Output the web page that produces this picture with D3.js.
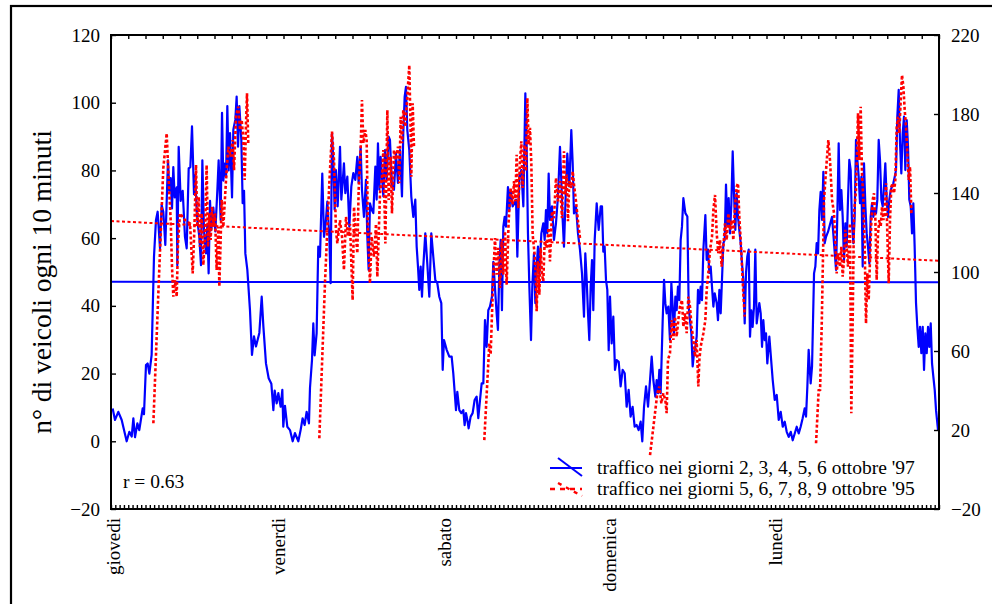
<!DOCTYPE html>
<html><head><meta charset="utf-8">
<script src="https://cdn.jsdelivr.net/npm/d3@7"></script>
<style>
body{margin:0;background:#fff}
svg{display:block}
text{font-family:"Liberation Serif","Times New Roman",serif;fill:#000}
</style>
</head><body><svg id="c" width="992" height="604"></svg>
<script>
// ---- data ----
const dayLabels = ["giovedi","venerdi","sabato","domenica","lunedi"];
const dayStarts = [0,24,48,72,96];            // hours from Thursday 00:00
const leftTicks = [-20,0,20,40,60,80,100,120];
const rightTicks = [-20,20,60,100,140,180,220];
const legendLabels = ["traffico nei giorni 2, 3, 4, 5, 6 ottobre '97","traffico nei giorni 5, 6, 7, 8, 9 ottobre '95"];
const rText = "r = 0.63";
const yTitle = "n° di veicoli ogni 10 minuti";

// [hour, vehicles per 10 min] — 1997, left axis
const traffic97 = [[0.24,9.7],[0.58,6.3],[1.06,8.7],[1.55,6.3],[2.27,0],[2.66,2.8],[3.0,1.4],[3.24,6.8],[3.48,1.2],[3.82,5.3],[4.1,3.3],[4.59,9.7],[4.78,8],[5.07,22.5],[5.31,23],[5.56,20],[5.89,25.5],[6.23,54.5],[6.52,65.4],[6.76,67.8],[7.1,57],[7.34,69.8],[7.58,67.8],[7.87,58],[8.26,83],[8.45,74],[8.65,77.7],[8.84,68.8],[9.03,81],[9.23,72],[9.52,75],[9.61,52],[9.81,87],[10.1,71],[10.39,74],[10.72,60.4],[10.97,57],[11.26,80.6],[11.5,81],[11.74,93],[12.03,73],[12.17,78.6],[12.51,65.4],[12.8,60.4],[13.04,52],[13.24,83],[13.48,62],[13.77,55.5],[13.96,64],[14.15,49.6],[14.35,71],[14.54,62.4],[14.83,69],[15.12,62],[15.41,74],[15.6,83],[15.89,65.4],[16.09,97],[16.28,77],[16.47,82],[16.67,78],[16.86,99],[17.05,80],[17.25,91],[17.54,72],[17.73,92],[18.02,95],[18.21,101.8],[18.41,87],[18.6,99],[18.89,89],[19.08,70.3],[19.28,74],[19.47,55.5],[19.76,50.6],[20.14,38.8],[20.43,25.5],[20.72,31],[21.01,28],[21.5,32],[21.84,42.7],[22.08,34],[22.46,23],[22.85,18.6],[23.24,17],[23.53,9.2],[23.72,15],[24.01,11.2],[24.25,14.2],
[24.59,10.2],[24.83,15.2],[24.97,4.3],[25.21,10.5],[25.55,4.3],[25.94,3.3],[26.33,0],[26.66,2.4],[27.15,0],[27.48,3.3],[27.77,6.8],[28.06,4.8],[28.35,8.7],[28.69,5.3],[28.84,15.8],[29.13,24],[29.32,34.8],[29.51,25.4],[29.8,31.9],[30.04,57.5],[30.29,54.5],[30.62,79.1],[30.87,60.4],[31.11,64.3],[31.35,70.8],[31.64,60.4],[31.83,46.7],[32.03,91],[32.22,83.1],[32.41,68.4],[32.6,80.1],[32.85,69.4],[33.19,87],[33.38,71.4],[33.57,76.3],[33.76,82.1],[33.96,73.3],[34.25,78.2],[34.54,63.4],[34.83,75.3],[35.12,79.2],[35.41,77.2],[35.7,84],[35.89,76.3],[36.18,87],[36.37,74.3],[36.66,66.3],[36.95,77.2],[37.15,60.4],[37.34,50.6],[37.53,70.3],[37.77,68.4],[38.02,67.4],[38.31,81.1],[38.5,71.4],[38.69,88],[38.89,74.3],[39.08,84],[39.27,78.2],[39.47,72.3],[39.71,86],[39.95,77.2],[40.24,90],[40.43,89],[40.72,75.3],[41.01,74.3],[41.3,85],[41.59,76.3],[41.88,86],[42.17,72.3],[42.36,91],[42.56,101.8],[42.75,104.7],[42.94,92],[43.23,86],[43.52,72.3],[43.81,66.3],[44.1,71.4],[44.3,57.5],[44.49,51.6],[44.68,44.7],[44.88,51.6],[45.07,42.7],[45.26,51.6],[45.55,61.4],[45.84,52.5],[46.13,42.7],[46.42,61.4],[46.71,54.5],[47.0,47.6],[47.29,46.7],[47.58,42.7],[47.87,40.8],[48.07,21.1],[48.26,29.9],[48.65,27],[49.03,25],
[49.37,25],[49.61,20],[50.0,9.2],[50.19,14.6],[50.48,9.2],[50.77,8.3],[51.06,9.2],[51.25,4.8],[51.45,8.3],[51.64,6.3],[51.83,3.8],[52.12,7.3],[52.41,8.3],[52.7,12.2],[52.99,13.2],[53.23,6.8],[53.48,12.2],[53.72,17.1],[53.96,17.1],[54.2,35.8],[54.44,27.9],[54.68,38.7],[54.93,39.8],[55.21,42.7],[55.41,53],[55.7,43.7],[55.89,37.8],[56.08,32.9],[56.28,51.6],[56.47,59.5],[56.66,38.7],[56.86,63.4],[57.05,66.3],[57.24,63.4],[57.53,75.1],[57.73,68.3],[57.92,74.2],[58.21,69.4],[58.5,70.4],[58.7,71.4],[58.89,54.5],[59.18,78.1],[59.47,80.1],[59.76,69.4],[60.05,102.8],[60.24,87],[60.43,61.4],[60.63,45.7],[60.87,29.9],[61.06,45.7],[61.3,55.5],[61.5,40.8],[61.69,51.6],[61.88,57.5],[62.08,49.6],[62.37,61.4],[62.65,64.4],[62.85,59.5],[63.04,68.3],[63.23,61.4],[63.43,79.1],[63.62,65.4],[63.91,69.4],[64.2,59.5],[64.49,64.4],[64.78,72.3],[65.07,87],[65.26,77.2],[65.46,65.4],[65.65,57.5],[65.94,75.3],[66.13,85],[66.42,75.3],[66.71,91.9],[66.91,82.1],[67.1,67.3],[67.39,69.4],[67.68,61.4],[67.97,56.5],[68.26,49.6],[68.55,36.8],[68.74,55.5],[68.94,47.6],[69.13,37.8],[69.32,29.9],[69.52,45.7],[69.71,53.5],[69.9,38.7],[70.1,59.5],[70.39,70.3],[70.68,62.4],[70.97,69.4],[71.16,69.4],[71.35,56],[71.54,57.5],[71.74,47.6],[71.93,44.7],[72.13,26.9],[72.32,42.7],[72.56,28.9],[72.8,36.8],[73.04,21.1],[73.29,24],[73.58,23.5],[73.86,16.2],[74.15,21.1],[74.45,20.1],[74.73,10.2],[75.02,15.2],[75.31,7.3],[75.6,10.2],[75.89,4.3],[76.18,4.8],[76.47,3.3],[76.76,5.8],[77.0,0],[77.25,10.2],[77.54,16.2],[77.83,10.2],[78.12,18.1],[78.36,25],[78.6,18.1],[78.89,13.2],[79.08,18.1],[79.28,14.2],[79.47,21.1],[79.66,14.2],[79.95,35.4],[80.15,47.7],[80.34,40.8],[80.53,37.8],[80.77,39.8],[81.01,29.9],[81.21,46.7],[81.4,39.8],[81.59,31.9],[81.79,42.7],[81.98,38.7],[82.17,45.7],[82.37,41.7],[82.56,59.5],[82.75,63.4],[82.95,71.8],[83.24,67.4],[83.53,66.4],[83.72,39.8],[83.91,35.8],[84.11,31.9],[84.3,22.1],[84.49,26],[84.69,27.9],[84.88,30.9],[85.07,44.7],[85.27,40.8],[85.46,45.7],[85.65,41.7],[85.85,56.6],[86.14,66.8],[86.33,53.6],[86.52,56.6],[86.72,49.7],[86.91,51.6],[87.1,45.7],[87.3,39.8],[87.49,43.7],[87.78,40.8],[87.97,35.8],[88.17,44.7],[88.36,37.8],[88.55,47.7],[88.75,58.5],[88.94,59.5],[89.13,75.8],[89.33,63.8],[89.52,71.8],[89.71,61.4],[89.9,69.8],[90.1,85.6],[90.29,73.2],[90.48,62.4],[90.68,73.2],[90.87,66.3],[91.06,62.4],[91.26,58.5],[91.45,52.5],[91.64,47.7],[91.84,34.8],[92.03,49.7],[92.22,54.6],[92.42,56.6],[92.61,30.9],[92.8,38.7],[92.99,33.8],[93.19,39.8],[93.38,56.6],[93.58,34.8],[93.77,37.8],[93.96,40.8],[94.16,37.8],[94.35,27.9],[94.54,35.8],[94.74,29.9],[94.93,31.9],[95.12,23],[95.41,30.9],[95.9,18.1],[96.19,12.2],[96.48,13.7],[96.77,6.3],[97.06,8.7],[97.35,4.3],[97.64,5.8],[97.93,2.8],[98.22,1.3],[98.51,2.8],[98.8,0.3],[99.09,2.3],[99.38,4.3],[99.67,2.3],[99.95,4.3],[100.24,6.8],[100.53,9.7],[100.73,7.3],[100.92,16.1],[101.11,27],[101.4,17.1],[101.6,22.1],[101.89,49.6],[102.08,51.6],[102.27,58.5],[102.47,55.5],[102.66,68.3],[102.85,73.7],[103.05,65.4],[103.24,79.6],[103.43,58.5],[103.63,60.4],[103.92,61.9],[104.5,66.3],[105.08,50.6],[105.27,67.3],[105.46,88],[105.65,68.3],[105.85,74.2],[106.04,66.3],[106.23,53.5],[106.43,64.4],[106.62,57.5],[106.81,71.3],[107.0,83.1],[107.2,80.1],[107.39,64.4],[107.59,58.5],[107.78,66.3],[107.97,89],[108.17,83.1],[108.36,78.1],[108.55,70.3],[108.75,78.1],[108.94,51.6],[109.13,82.1],[109.33,69.4],[109.52,61.4],[109.71,57.5],[109.91,52.5],[110.1,66.3],[110.29,70.3],[110.48,66.3],[110.68,68.3],[110.87,67.3],[111.06,71.3],[111.26,89],[111.45,83.1],[111.65,71.3],[111.84,69.4],[112.03,75.2],[112.22,82.1],[112.42,71.3],[112.61,66.3],[112.8,71.3],[113.0,74.2],[113.19,75.2],[113.38,76.2],[113.58,78.1],[113.77,80.1],[113.96,95.9],[114.16,103.8],[114.35,88],[114.54,79.1],[114.74,91],[114.93,95.9],[115.12,80.1],[115.32,94.9],[115.51,87],[115.7,71.3],[115.9,69.4],[116.09,61.4],[116.28,70.3],[116.47,57.5],[116.67,40.8],[116.86,33.8],[117.06,27.9],[117.25,33.8],[117.44,26],[117.64,33.8],[117.83,21.1],[118.02,31.9],[118.22,26],[118.41,33.8],[118.6,27.9],[118.8,34.8],[118.99,23],[119.18,19.1],[119.38,15.2],[119.57,9.2],[119.86,3.3]];

// [hour, vehicles per 10 min] — 1995, right axis (daytime only)
const traffic95 = [[6.14,23.4],[6.86,89.2],[7.58,152.5],[8.07,170.2],[8.36,146.6],[8.65,126.3],[8.84,102.7],[9.03,87.5],[9.28,95.9],[9.52,87.5],[9.71,114.5],[10.0,129.7],[10.72,126.3],[11.45,124.6],[11.84,99.3],[12.08,121.3],[12.32,154.2],[12.51,122.9],[12.71,138.1],[12.9,112.8],[13.14,129.7],[13.38,103.5],[13.62,117.9],[13.86,154.2],[14.06,112.8],[14.25,129.7],[14.44,116.2],[14.64,133.1],[14.83,122.9],[15.07,129.7],[15.31,101],[15.56,122.9],[15.7,92.6],[15.89,116.2],[16.04,136.5],[16.28,122.9],[16.67,146.6],[17.0,163.4],[17.34,158.4],[17.63,166.8],[17.83,151.6],[18.12,178.6],[18.45,183.7],[18.7,171.9],[18.94,177],[19.18,166.8],[19.37,146.6],[19.57,175.3],[19.71,190.5],[19.9,164.3],
[30.19,15.8],[31.01,94.3],[31.64,145],[32.03,171.1],[32.32,156.7],[32.6,121.3],[32.8,114.5],[33.19,126.3],[33.48,117.9],[33.76,101],[34.06,128],[34.35,117.9],[34.64,124.3],[35.02,85.8],[35.22,133],[35.51,117.9],[35.7,109.5],[35.89,141.5],[36.18,161.8],[36.37,187.1],[36.57,165.2],[36.86,171.9],[37.05,166.8],[37.24,121.3],[37.53,94.3],[37.77,117.9],[38.11,107.8],[38.41,124.3],[38.6,97.6],[38.99,139.9],[39.27,148.2],[39.47,161.8],[39.76,114.5],[40.05,182],[40.24,136.5],[40.53,158.4],[40.72,129.7],[41.01,161.8],[41.3,156.7],[41.59,163.5],[41.78,144.9],[41.98,178.6],[42.17,165.2],[42.36,182],[42.65,173.6],[42.94,188.8],[43.23,204.8],[43.43,170.2],[43.52,148.2],[43.72,185.4],[43.91,163.5],
[54.1,14.9],[54.83,63.9],[55.02,58.2],[55.41,98.7],[55.65,117.2],[55.89,98.7],[56.13,112.2],[56.38,91.9],[56.62,115.5],[56.86,98.7],[57.1,120.6],[57.34,93.6],[57.63,125.7],[57.92,142.6],[58.21,134.1],[58.41,146],[58.6,135.8],[58.79,159.4],[59.03,132.4],[59.27,156],[59.47,166.2],[59.66,142.6],[59.95,164.5],[60.14,151],[60.34,188.1],[60.53,164.5],[60.72,173],[60.92,154.4],[61.11,118.9],[61.4,108.7],[61.59,95.3],[61.69,80.1],[61.88,105.4],[62.08,88.5],[62.27,112.2],[62.46,98.7],[62.65,95.3],[62.85,115.5],[63.14,112.2],[63.43,122.3],[63.62,105.4],[63.91,130.7],[64.2,127.3],[64.49,147.6],[64.78,135.8],[65.07,146],[65.36,127.3],[65.65,161.1],[65.84,139.2],[66.04,149.3],[66.23,125.7],[66.42,146],[66.71,142.6],[66.91,151],[67.1,144.3],[67.39,135.8],[67.68,125.7],[67.97,117.2],
[78.12,7.3],[78.84,28.5],[79.18,38.6],[79.47,42],[79.76,33.5],[80.05,38.6],[80.34,35.2],[80.53,28.5],[80.72,55.5],[81.01,58.9],[81.26,75.7],[81.5,65.6],[81.74,77.4],[81.98,67.3],[82.22,75.7],[82.46,82.5],[82.75,85.8],[82.95,72.3],[83.19,79.1],[83.43,69],[83.67,87.5],[83.91,82.5],[84.15,72.3],[84.4,65.6],[84.64,57.2],[84.88,65.6],[85.12,42],[85.27,55.5],[85.46,62.2],[85.85,69],[86.14,75.7],[86.33,90.9],[86.57,99.3],[86.81,111.1],[87.1,117.9],[87.3,131.4],[87.54,139],[87.78,119.6],[88.02,109.5],[88.26,116.2],[88.5,102.7],[88.75,112.8],[88.99,124.6],[89.23,116.2],[89.47,129.7],[89.71,121.3],[90.0,126.3],[90.19,116.2],[90.43,133],[90.68,143.2],[90.87,144.9],[91.06,128],[91.26,116.2],[91.45,102.7],[91.64,89.2],[91.84,77.4],
[102.18,13.3],[102.56,40.1],[102.76,40.3],[103.0,72.3],[103.34,136.5],[103.63,151.6],[103.96,166.8],[104.2,156.7],[104.5,136.5],[104.79,129.7],[104.98,114.5],[105.17,99.3],[105.41,109.5],[105.65,102.7],[105.85,112.8],[106.04,97.6],[106.23,106.1],[106.43,121.3],[106.62,112.8],[106.81,102.7],[107.1,124.6],[107.29,28.5],[107.49,75.7],[107.68,129.7],[107.97,141.5],[108.26,180.4],[108.46,156.7],[108.65,183.7],[108.84,149.9],[109.04,136.5],[109.23,112.8],[109.42,74],[109.62,99.3],[109.81,85.8],[110.0,106.1],[110.2,126.3],[110.39,136.5],[110.58,139.9],[110.78,126.3],[110.97,96],[111.16,119.6],[111.36,126.3],[111.55,122.9],[111.74,133],[111.94,126.3],[112.13,129.7],[112.32,144.9],[112.51,119.6],[112.71,94.3],[112.9,126.3],[113.09,143.2],[113.29,144.9],[113.48,139.9],[113.67,146.6],[113.87,173.6],[114.06,178.6],[114.25,170.2],[114.45,187.1],[114.64,199.7],[114.84,193.8],[115.03,182],[115.22,173.6],[115.41,160.1],[115.61,146.6],[115.8,153.3],[116.0,129.7]];

const mean97 = [[0,47.1],[119.9,47.0]];     // left axis
const trend95 = [[0,125.8],[119.9,105.7]];  // right axis

// ---- layout ----
const svg = d3.select("#c");
const L = 111, R = 939, T = 35, B = 509;
const x = d3.scaleLinear().domain([0,120]).range([L,R]);
const yL = d3.scaleLinear().domain([-20,120]).range([B,T]);
const yR = d3.scaleLinear().domain([-20,220]).range([B,T]);
const BLUE = "#0000ff", RED = "#ff0000";

// outer frame
svg.append("rect").attr("x",11).attr("y",6).attr("width",1000).attr("height",700)
  .attr("fill","none").attr("stroke","#000").attr("stroke-width",2.2);

// series
const lineL = d3.line().x(d=>x(d[0])).y(d=>yL(d[1]));
const lineR = d3.line().x(d=>x(d[0])).y(d=>yR(d[1]));

svg.append("path").datum(traffic97).attr("d",lineL)
  .attr("fill","none").attr("stroke",BLUE).attr("stroke-width",2.2).attr("stroke-linejoin","round");
svg.append("path").datum(mean97).attr("d",lineL)
  .attr("fill","none").attr("stroke",BLUE).attr("stroke-width",2);

// split 1995 series into daily segments
const segs = [];
traffic95.forEach((d,i)=>{
  if(i===0 || d[0]-traffic95[i-1][0] > 3) segs.push([]);
  segs[segs.length-1].push(d);
});
segs.forEach(s=>{
  svg.append("path").datum(s).attr("d",lineR)
    .attr("fill","none").attr("stroke",RED).attr("stroke-width",2.6)
    .attr("stroke-dasharray","3,2.2");
});
svg.append("path").datum(trend95).attr("d",lineR)
  .attr("fill","none").attr("stroke",RED).attr("stroke-width",2).attr("stroke-dasharray","3,2.5");

// axes
const fs = "19px";
const gl = svg.append("g").attr("transform",`translate(${L},0)`)
  .call(d3.axisLeft(yL).tickValues(leftTicks).tickSize(-5).tickSizeOuter(0).tickPadding(11).tickFormat(d3.format("d")));
const gr = svg.append("g").attr("transform",`translate(${R},0)`)
  .call(d3.axisRight(yR).tickValues(rightTicks).tickSize(-5).tickSizeOuter(0).tickPadding(12).tickFormat(d3.format("d")));
const gt = svg.append("g").attr("transform",`translate(0,${T})`)
  .call(d3.axisTop(x).tickValues(d3.range(0,120.001,2.5)).tickSize(-4).tickSizeOuter(0).tickFormat(""));
const gb = svg.append("g").attr("transform",`translate(0,${B})`)
  .call(d3.axisBottom(x).tickValues(d3.range(0,120.001,0.625)).tickSize(-4).tickSizeOuter(0).tickFormat(""));
const gd = svg.append("g").attr("transform",`translate(0,${B})`)
  .call(d3.axisBottom(x).tickValues(dayStarts).tickSize(0).tickFormat((d,i)=>dayLabels[i]));
gd.selectAll("text").attr("x",0).attr("y",0).attr("dy",null)
  .attr("text-anchor","end").attr("transform","translate(8,9) rotate(-90)");

[gl,gr,gt,gb,gd].forEach(g=>{
  g.select(".domain").remove();
  g.selectAll(".tick line").attr("stroke","#000").attr("stroke-width",1.4);
  g.selectAll("text").attr("font-size",fs).attr("fill","#000");
});

// plot frame
svg.append("rect").attr("x",L).attr("y",T).attr("width",R-L).attr("height",B-T)
  .attr("fill","none").attr("stroke","#000").attr("stroke-width",2);

// y title
svg.append("text").attr("transform",`translate(51,${(T+B)/2+10}) rotate(-90)`)
  .attr("text-anchor","middle").attr("font-size","27.5px").text(yTitle);

// r value
svg.append("text").attr("x",123).attr("y",488).attr("font-size","19.5px").text(rText);

// legend
const lg = svg.append("g");
lg.append("line").attr("x1",550).attr("x2",582).attr("y1",468).attr("y2",468).attr("stroke",BLUE).attr("stroke-width",2);
lg.append("line").attr("x1",558).attr("x2",582).attr("y1",458).attr("y2",476).attr("stroke",BLUE).attr("stroke-width",2);
lg.append("line").attr("x1",550).attr("x2",582).attr("y1",489).attr("y2",489).attr("stroke",RED).attr("stroke-width",2.4).attr("stroke-dasharray","5,5");
lg.append("line").attr("x1",558).attr("x2",582).attr("y1",483).attr("y2",496).attr("stroke",RED).attr("stroke-width",2.4).attr("stroke-dasharray","4,5");
lg.selectAll("text.l").data(legendLabels).join("text").attr("class","l")
  .attr("x",597).attr("y",(d,i)=>474+i*21).attr("font-size","19.5px").text(d=>d);
</script>
</body></html>
